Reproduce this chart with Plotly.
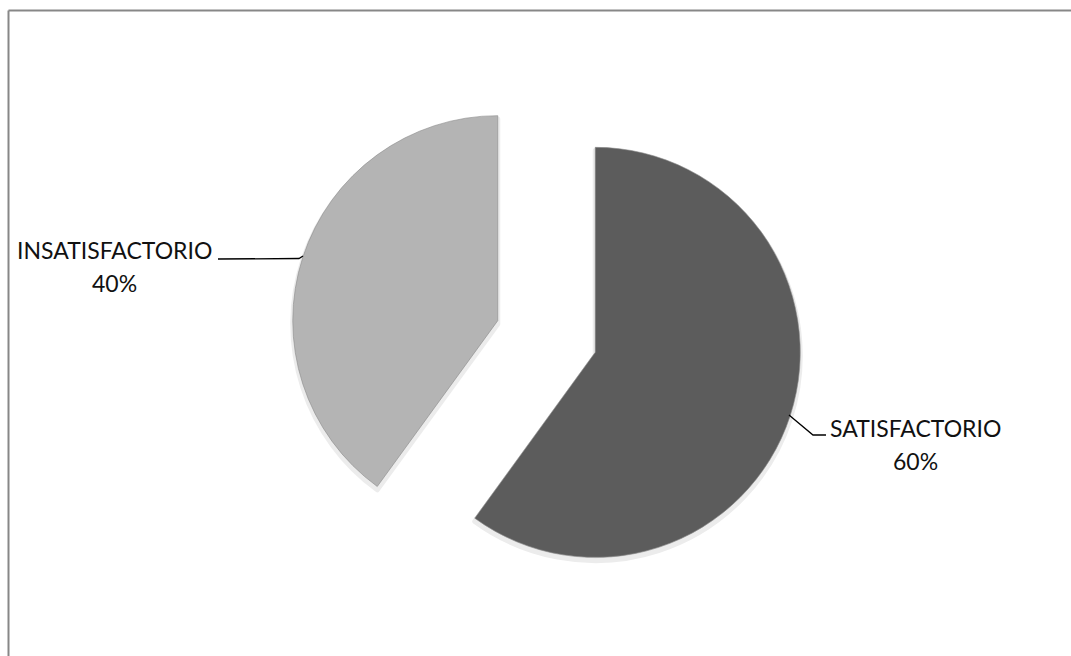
import plotly.graph_objects as go

# Survey result shares
labels = ["SATISFACTORIO", "INSATISFACTORIO"]
values = [60, 40]
slice_colors = ["#5c5c5c", "#b4b4b4"]

W, H = 1071, 656
total = sum(values)
percents = [round(v * 100 / total) for v in values]

fig = go.Figure()

# soft drop shadow underneath the exploded slices
fig.add_trace(go.Pie(
    labels=labels, values=values, sort=False, direction="clockwise", rotation=0,
    pull=[0.25, 0.25], textinfo="none", hoverinfo="skip", showlegend=False,
    marker=dict(colors=["#dcdcdc", "#e4e4e4"], line=dict(color="#ececec", width=5)),
    domain=dict(x=[290.25 / W, 802.75 / W], y=[1 - 596.0 / H, 1 - 83.5 / H]),
))

fig.add_trace(go.Pie(
    labels=labels, values=values, sort=False, direction="clockwise", rotation=0,
    pull=[0.25, 0.25], textinfo="none", showlegend=False,
    marker=dict(colors=slice_colors, line=dict(color="#8a8a8a", width=0.6)),
    domain=dict(x=[290.25 / W, 802.75 / W], y=[1 - 592.75 / H, 1 - 80.25 / H]),
))

font = dict(family="Lato, 'Open Sans', sans-serif", size=23, color="#111111")

# label positions (pixels) for name line and percent line
label_pos = {
    "SATISFACTORIO": ((915, 427.5), (915, 461)),
    "INSATISFACTORIO": ((115, 250), (114, 283)),
}
annotations = []
for lab, pct in zip(labels, percents):
    (nx, ny), (px_, py_) = label_pos[lab]
    annotations.append(dict(x=nx / W, y=1 - ny / H, xref="paper", yref="paper",
                            text=lab, showarrow=False, font=font,
                            xanchor="center", yanchor="middle"))
    annotations.append(dict(x=px_ / W, y=1 - py_ / H, xref="paper", yref="paper",
                            text=f"{pct}%", showarrow=False, font=font,
                            xanchor="center", yanchor="middle"))


def px_path(points):
    return "M " + " L ".join(f"{x / W:.5f},{1 - y / H:.5f}" for x, y in points)


shapes = [
    # leader lines
    dict(type="path", xref="paper", yref="paper",
         path=px_path([(218, 259), (299, 258.5), (303, 256)]),
         line=dict(color="#000000", width=1.3)),
    dict(type="path", xref="paper", yref="paper",
         path=px_path([(789, 415), (813, 435), (826, 435)]),
         line=dict(color="#000000", width=1.3)),
    # chart frame (top and left edges)
    dict(type="line", xref="paper", yref="paper",
         x0=8.5 / W, y0=1 - 10.5 / H, x1=1.0, y1=1 - 10.5 / H,
         line=dict(color="#878787", width=2)),
    dict(type="line", xref="paper", yref="paper",
         x0=8.5 / W, y0=1 - 10.5 / H, x1=8.5 / W, y1=0,
         line=dict(color="#878787", width=2)),
]

fig.update_layout(
    width=W, height=H,
    margin=dict(l=0, r=0, t=0, b=0),
    paper_bgcolor="#ffffff", plot_bgcolor="#ffffff",
    showlegend=False,
    annotations=annotations,
    shapes=shapes,
)

fig.write_html("out.html")
